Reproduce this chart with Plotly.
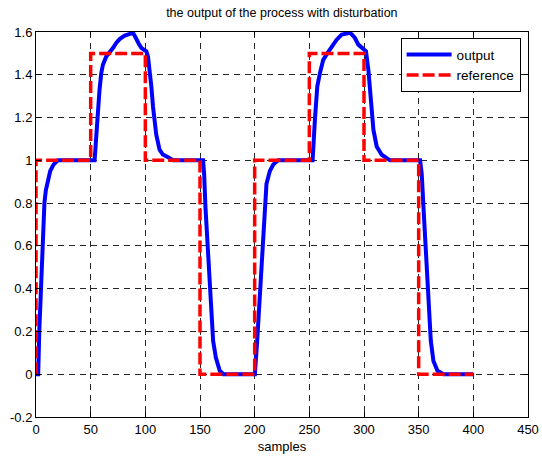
import plotly.graph_objects as go

# Process output (sampled at the corners of the response)
output_x = [0, 2, 3, 4.6, 6, 7.7, 9, 10.8, 13, 16, 20, 53.6, 55.1, 56.6, 58.1, 59.7,
            61.2, 64.3, 67.3, 70.4, 73.4, 76.5, 81.1, 85.6, 88.7, 90.5, 91.8, 94,
            96.3, 100.9, 102.4, 104, 105.5, 107, 108.5, 110, 113, 116, 120.8, 125.3,
            152.8, 153.8, 155, 156.8, 158, 159.6, 162, 164.5, 168.1, 171.4, 200.2,
            202.3, 204.1, 205.4, 206.9, 208.7, 210.8, 213.9, 217, 221.5, 253, 255.1,
            257.3, 259.7, 262.7, 266.4, 270.4, 275, 279.6, 284, 287.2, 289.5, 291.7,
            294.8, 299.4, 301.8, 304, 306.4, 308.6, 311.6, 316.2, 320.8, 323.8,
            351.3, 352.8, 354.4, 355.9, 357.4, 358.9, 361.1, 363.5, 367.2, 372.7, 400]
output_y = [0, 0, 0.2, 0.4, 0.6, 0.8, 0.86, 0.9, 0.95, 0.98, 1.0, 1.0, 1.12, 1.22, 1.33,
            1.408, 1.447, 1.486, 1.502, 1.525, 1.549, 1.567, 1.583, 1.588, 1.596, 1.58,
            1.564, 1.545, 1.526, 1.51, 1.486, 1.424, 1.346, 1.252, 1.174, 1.12, 1.05,
            1.027, 1.014, 1.0, 1.0, 0.936, 0.78, 0.62, 0.47, 0.31, 0.156, 0.078, 0.016,
            0, 0, 0.156, 0.31, 0.47, 0.62, 0.78, 0.89, 0.95, 0.98, 1.0, 1.0, 1.19,
            1.346, 1.408, 1.47, 1.50, 1.533, 1.564, 1.588, 1.594, 1.596, 1.585, 1.572,
            1.541, 1.52, 1.51, 1.424, 1.268, 1.143, 1.065, 1.026, 1.01, 1.0,
            1.0, 0.936, 0.78, 0.62, 0.47, 0.31, 0.156, 0.062, 0.016, 0, 0]

# Reference setpoint (piecewise constant)
reference_x = [0, 0, 50, 50, 100, 100, 150, 150, 200, 200, 250, 250, 300, 300, 350, 350, 400]
reference_y = [0, 1, 1, 1.5, 1.5, 1, 1, 0, 0, 1, 1, 1.5, 1.5, 1, 1, 0, 0]

x_ticks = [0, 50, 100, 150, 200, 250, 300, 350, 400, 450]
y_ticks = [-0.2, 0, 0.2, 0.4, 0.6, 0.8, 1, 1.2, 1.4, 1.6]
y_tick_text = ["-0.2", "0", "0.2", "0.4", "0.6", "0.8", "1", "1.2", "1.4", "1.6"]

font = "Liberation Sans, Arial, sans-serif"

fig = go.Figure()
fig.add_trace(go.Scatter(x=output_x, y=output_y, mode="lines", name="output",
                         line=dict(color="#0000ff", width=4)))
fig.add_trace(go.Scatter(x=reference_x, y=reference_y, mode="lines", name="reference",
                         line=dict(color="#ff0000", width=3.5, dash="12px,4px")))

axis_common = dict(
    showline=True, linecolor="black", linewidth=1, mirror="ticks",
    ticks="inside", ticklen=5, tickcolor="black", tickwidth=1,
    showgrid=True, gridcolor="rgba(0,0,0,0.85)", gridwidth=1, griddash="6px,5px",
    zeroline=False, automargin=False,
    tickfont=dict(family=font, size=13, color="black"),
)

fig.update_layout(
    width=542, height=462,
    margin=dict(l=36, r=14, t=32, b=45),
    paper_bgcolor="white", plot_bgcolor="white",
    title=dict(text="the output of the process with disturbation", x=0.52, xanchor="center",
               y=0.973, yanchor="middle", font=dict(family=font, size=12.5, color="black")),
    xaxis=dict(range=[0, 450], tickvals=x_ticks, **axis_common,
               title=dict(text="samples", font=dict(family=font, size=13, color="black"),
                          standoff=6)),
    yaxis=dict(range=[-0.2, 1.6], tickvals=y_ticks, ticktext=y_tick_text, **axis_common),
    legend=dict(x=0.985, y=0.984, xanchor="right", yanchor="top",
                bgcolor="white", bordercolor="black", borderwidth=1,
                font=dict(family=font, size=13.5, color="black"),
                tracegroupgap=0, itemwidth=45),
    showlegend=True,
)

fig.write_html("out.html")
